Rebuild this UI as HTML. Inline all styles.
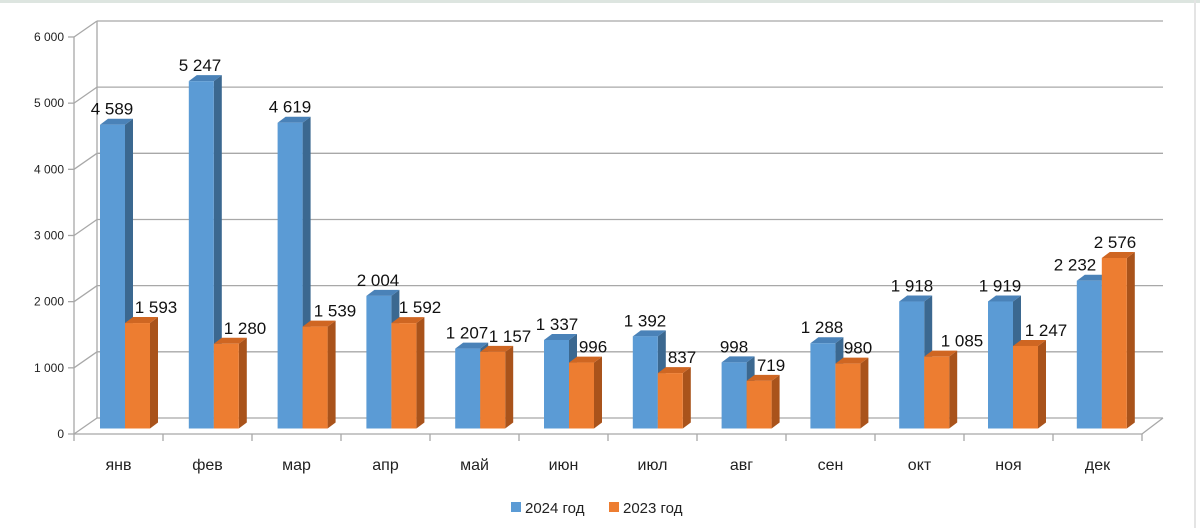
<!DOCTYPE html>
<html><head><meta charset="utf-8"><style>
html,body{margin:0;padding:0;background:#fff;}
svg{display:block;font-family:"Liberation Sans","DejaVu Sans",sans-serif;}
</style></head><body>
<svg id="c" width="1200" height="528" viewBox="0 0 1200 528" xmlns="http://www.w3.org/2000/svg">
<line x1="0" y1="1.5" x2="1200" y2="1.5" stroke="#dde5e0" stroke-width="3"/>
<line x1="1195" y1="0" x2="1195" y2="528" stroke="#e4e4e4" stroke-width="2"/>
<g id="g"></g>
</svg>
<script>
var g=document.getElementById('g'),s='';
var gc='#a8a8a8';
for(var k=0;k<=6;k++){
 var yb=418-k*66.17, yf=yb+16;
 s+='<line x1="97" y1="'+yb+'" x2="1163" y2="'+yb+'" stroke="'+gc+'" stroke-width="1.3"/>';
 s+='<line x1="74" y1="'+yf+'" x2="97" y2="'+yb+'" stroke="'+gc+'" stroke-width="1.3"/>';
 s+='<line x1="68" y1="'+yf+'" x2="74" y2="'+yf+'" stroke="'+gc+'" stroke-width="1.3"/>';
 s+='<text x="64" y="'+(yf+4)+'" font-size="12" text-anchor="end" fill="#222">'+(k==0?'0':k+' 000')+'</text>';
}
s+='<line x1="97" y1="21" x2="97" y2="418" stroke="'+gc+'" stroke-width="1.3"/>';
s+='<line x1="74" y1="37" x2="74" y2="434" stroke="'+gc+'" stroke-width="1.3"/>';
s+='<line x1="74" y1="434" x2="1142" y2="434" stroke="'+gc+'" stroke-width="1.3"/>';
s+='<line x1="1142" y1="434" x2="1163" y2="418" stroke="'+gc+'" stroke-width="1.3"/>';
for(var i=0;i<=12;i++){var x=74+i*89;s+='<line x1="'+x+'" y1="434" x2="'+x+'" y2="441" stroke="'+gc+'" stroke-width="1.3"/>';}
var b=[4589,5247,4619,2004,1207,1337,1392,998,1288,1918,1919,2232];
var o=[1593,1280,1539,1592,1157,996,837,719,980,1085,1247,2576];
var bl=[112,200,290,378,467,557,645,734,822,912,1000,1075];
var ol=[156,245,335,420,510,593,682,771,858,962,1046,1115];
var m=['янв','фев','мар','апр','май','июн','июл','авг','сен','окт','ноя','дек'];
function fmt(v){v=String(v);return v.length>3?v.slice(0,v.length-3)+' '+v.slice(-3):v;}
function bar(x,v,f,sd,tp){var h=v*0.0662,t=428.5-h,w=25,d=8,e=6;
 return '<polygon points="'+(x+w)+','+t+' '+(x+w+d)+','+(t-e)+' '+(x+w+d)+','+(428.5-e)+' '+(x+w)+','+428.5+'" fill="'+sd+'"/>'+
 '<polygon points="'+x+','+t+' '+(x+d)+','+(t-e)+' '+(x+w+d)+','+(t-e)+' '+(x+w)+','+t+'" fill="'+tp+'"/>'+
 '<rect x="'+x+'" y="'+t+'" width="'+w+'" height="'+h+'" fill="'+f+'"/>';}
for(var i=0;i<12;i++){var x=100+i*88.8;
 s+=bar(x,b[i],'#5b9bd5','#3b6890','#4a82b8');
 s+=bar(x+25,o[i],'#ed7d31','#a9531b','#cf6622');
 s+='<text x="'+bl[i]+'" y="'+(428.5-b[i]*0.0662-10)+'" font-size="17" text-anchor="middle" fill="#111">'+fmt(b[i])+'</text>';
 s+='<text x="'+ol[i]+'" y="'+(428.5-o[i]*0.0662-10)+'" font-size="17" text-anchor="middle" fill="#111">'+fmt(o[i])+'</text>';
 s+='<text x="'+(118.5+i*89)+'" y="470" font-size="16" text-anchor="middle" fill="#222">'+m[i]+'</text>';
}
s+='<rect x="511" y="502" width="10" height="10" fill="#5b9bd5"/><text x="525" y="513" font-size="15" fill="#222">2024 год</text>';
s+='<rect x="609" y="502" width="10" height="10" fill="#ed7d31"/><text x="623" y="513" font-size="15" fill="#222">2023 год</text>';
g.innerHTML=s;
</script>
</body></html>
